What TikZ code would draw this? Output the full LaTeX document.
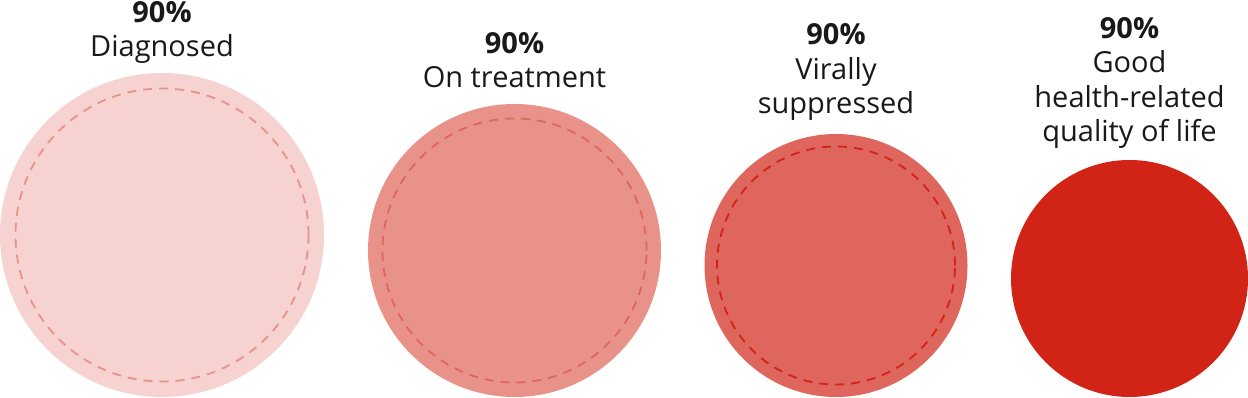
\documentclass[tikz,border=0pt]{standalone}
\usepackage{fontspec}
\setmainfont{Open Sans}
\definecolor{hivred}{RGB}{210,36,22}
\tikzset{
  goal/.style={align=center, inner sep=0pt, anchor=base, text=black!90,
    font=\fontsize{29}{34.5}\selectfont},
  ring/.style={line width=1.8pt, dash pattern=on 9pt off 7pt},
}

\begin{document}
\begin{tikzpicture}[x=1pt,y=1pt]
  %%%%% START %%%%%
  \useasboundingbox (0,0) rectangle (1248,398);

  % diagnosed
  \fill[hivred!20] (162, 163) circle (162);
  \draw[ring, hivred!50] (162, 163) circle (146.5);
  \node[goal] (diag) at (162, 341) {\textbf{90\%}\\Diagnosed};

  % on treatment
  \fill[hivred!50] (514.5, 147.5) circle (146.5);
  \draw[ring, hivred!70] (514.5, 147.5) circle (132);
  \node[goal] (treat) at (514.5, 310) {\textbf{90\%}\\On treatment};

  % virally suppressed
  \fill[hivred!70] (836, 132.5) circle (131.5);
  \draw[ring, hivred] (836, 132.5) circle (119);
  \node[goal] (supp) at (836, 284) {\textbf{90\%}\\Virally\\suppressed};

  % quality of life
  \fill[hivred] (1129.5, 119.5) circle (118.5);
  \node[goal] (life) at (1129.5, 256) {\textbf{90\%}\\Good\\health-related\\quality of life};

  %%%%% END %%%%%
\end{tikzpicture}
\end{document}
